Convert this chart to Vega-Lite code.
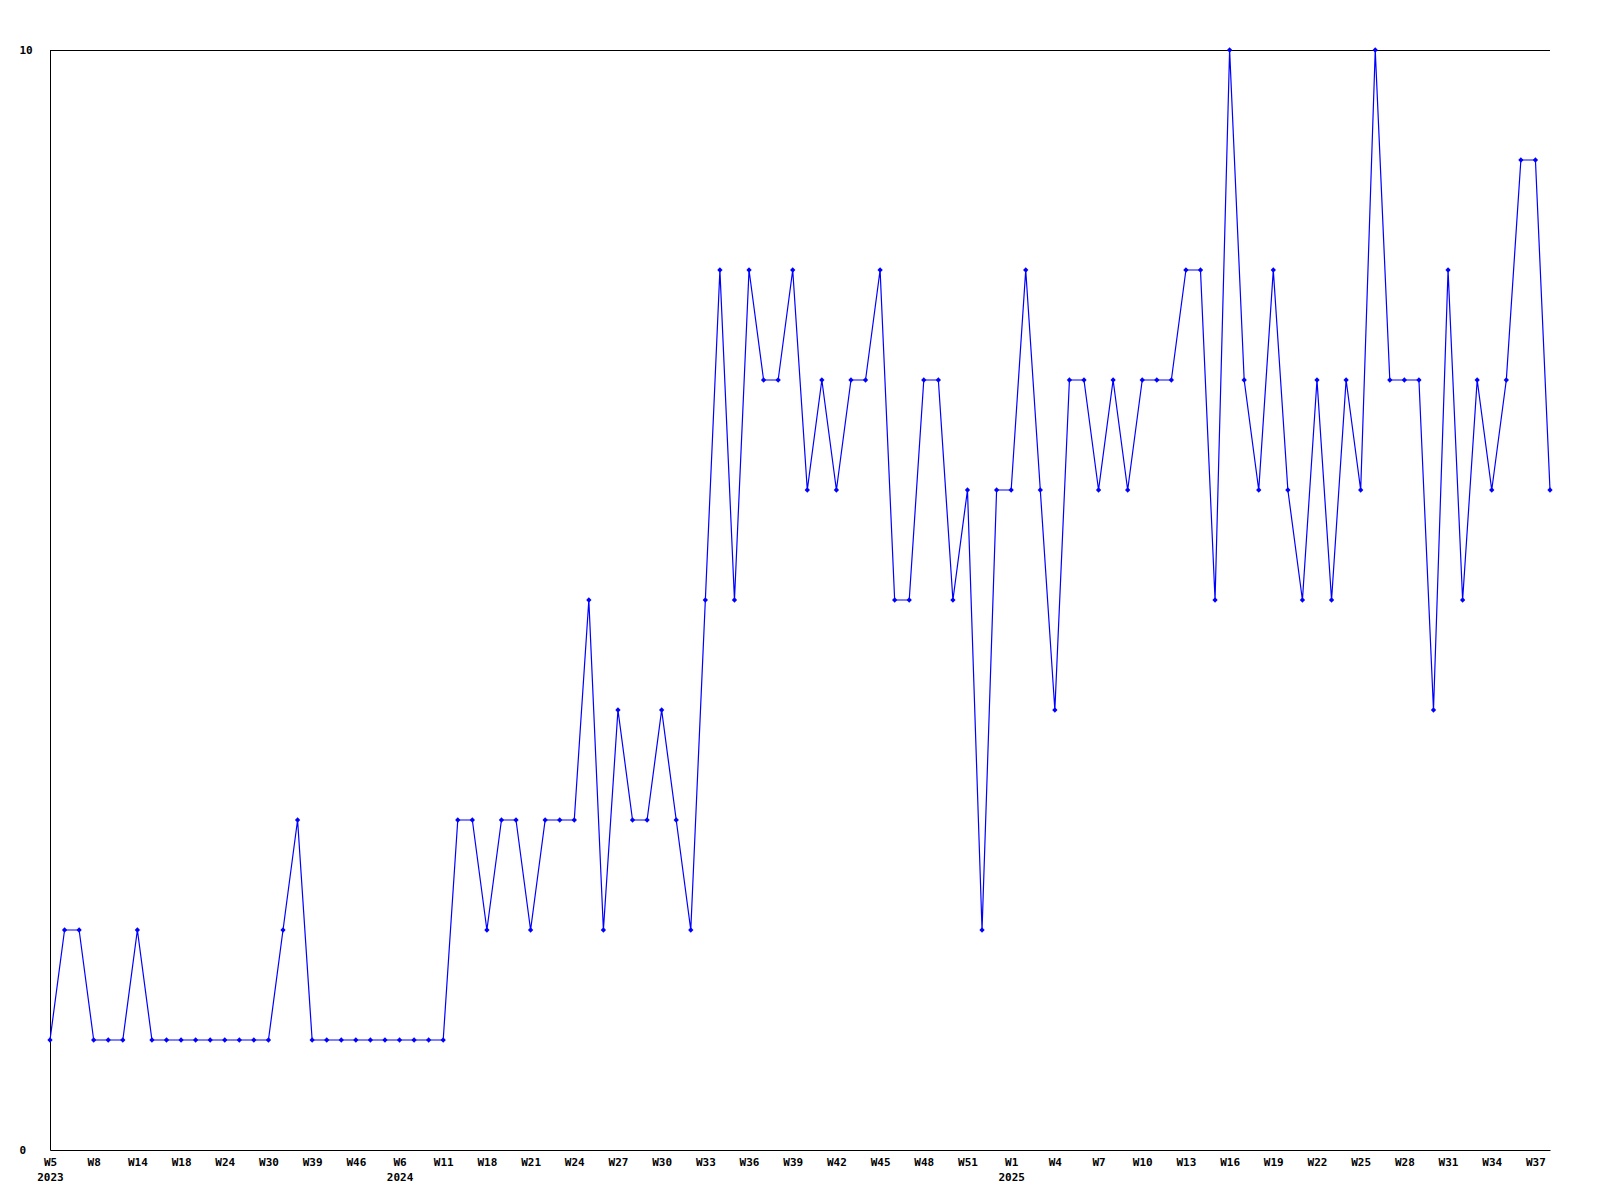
{
  "$schema": "https://vega.github.io/schema/vega-lite/v6.json",
  "width": 1500,
  "height": 1100,
  "autosize": {"type": "none"},
  "padding": {"left": 50, "top": 50, "right": 50, "bottom": 50},
  "background": "white",
  "config": {"view": {"stroke": null}},
  "data": {"values": [
    {"w":"2023-W5","n":1},{"w":"2023-W6","n":2},{"w":"2023-W7","n":2},{"w":"2023-W8","n":1},{"w":"2023-W10","n":1},{"w":"2023-W12","n":1},{"w":"2023-W14","n":2},{"w":"2023-W15","n":1},{"w":"2023-W17","n":1},{"w":"2023-W18","n":1},
    {"w":"2023-W20","n":1},{"w":"2023-W22","n":1},{"w":"2023-W24","n":1},{"w":"2023-W26","n":1},{"w":"2023-W28","n":1},{"w":"2023-W30","n":1},{"w":"2023-W33","n":2},{"w":"2023-W36","n":3},{"w":"2023-W39","n":1},{"w":"2023-W41","n":1},
    {"w":"2023-W44","n":1},{"w":"2023-W46","n":1},{"w":"2023-W49","n":1},{"w":"2023-W52","n":1},{"w":"2024-W6","n":1},{"w":"2024-W8","n":1},{"w":"2024-W10","n":1},{"w":"2024-W11","n":1},{"w":"2024-W13","n":3},{"w":"2024-W16","n":3},
    {"w":"2024-W18","n":2},{"w":"2024-W19","n":3},{"w":"2024-W20","n":3},{"w":"2024-W21","n":2},{"w":"2024-W22","n":3},{"w":"2024-W23","n":3},{"w":"2024-W24","n":3},{"w":"2024-W25","n":5},{"w":"2024-W26","n":2},{"w":"2024-W27","n":4},
    {"w":"2024-W28","n":3},{"w":"2024-W29","n":3},{"w":"2024-W30","n":4},{"w":"2024-W31","n":3},{"w":"2024-W32","n":2},{"w":"2024-W33","n":5},{"w":"2024-W34","n":8},{"w":"2024-W35","n":5},{"w":"2024-W36","n":8},{"w":"2024-W37","n":7},
    {"w":"2024-W38","n":7},{"w":"2024-W39","n":8},{"w":"2024-W40","n":6},{"w":"2024-W41","n":7},{"w":"2024-W42","n":6},{"w":"2024-W43","n":7},{"w":"2024-W44","n":7},{"w":"2024-W45","n":8},{"w":"2024-W46","n":5},{"w":"2024-W47","n":5},
    {"w":"2024-W48","n":7},{"w":"2024-W49","n":7},{"w":"2024-W50","n":5},{"w":"2024-W51","n":6},{"w":"2024-W52","n":2},{"w":"2024-W53","n":6},{"w":"2025-W1","n":6},{"w":"2025-W2","n":8},{"w":"2025-W3","n":6},{"w":"2025-W4","n":4},
    {"w":"2025-W5","n":7},{"w":"2025-W6","n":7},{"w":"2025-W7","n":6},{"w":"2025-W8","n":7},{"w":"2025-W9","n":6},{"w":"2025-W10","n":7},{"w":"2025-W11","n":7},{"w":"2025-W12","n":7},{"w":"2025-W13","n":8},{"w":"2025-W14","n":8},
    {"w":"2025-W15","n":5},{"w":"2025-W16","n":10},{"w":"2025-W17","n":7},{"w":"2025-W18","n":6},{"w":"2025-W19","n":8},{"w":"2025-W20","n":6},{"w":"2025-W21","n":5},{"w":"2025-W22","n":7},{"w":"2025-W23","n":5},{"w":"2025-W24","n":7},
    {"w":"2025-W25","n":6},{"w":"2025-W26","n":10},{"w":"2025-W27","n":7},{"w":"2025-W28","n":7},{"w":"2025-W29","n":7},{"w":"2025-W30","n":4},{"w":"2025-W31","n":8},{"w":"2025-W32","n":5},{"w":"2025-W33","n":7},{"w":"2025-W34","n":6},
    {"w":"2025-W35","n":7},{"w":"2025-W36","n":9},{"w":"2025-W37","n":9},{"w":"2025-W38","n":6}
  ]},
  "encoding": {
    "x": {
      "field": "w", "type": "ordinal", "sort": null,
      "scale": {"type": "point", "padding": 0},
      "axis": {
        "title": null,
        "values": ["2023-W5","2023-W8","2023-W14","2023-W18","2023-W24","2023-W30","2023-W39","2023-W46","2024-W6","2024-W11","2024-W18","2024-W21","2024-W24","2024-W27","2024-W30","2024-W33","2024-W36","2024-W39","2024-W42","2024-W45","2024-W48","2024-W51","2025-W1","2025-W4","2025-W7","2025-W10","2025-W13","2025-W16","2025-W19","2025-W22","2025-W25","2025-W28","2025-W31","2025-W34","2025-W37"],
        "labelExpr": "[split(datum.value,'-')[1], indexof(['2023-W5','2024-W6','2025-W1'], datum.value) >= 0 ? split(datum.value,'-')[0] : '']",
        "labelAngle": 0,
        "labelAlign": "center",
        "labelBaseline": "top",
        "labelLineHeight": 15,
        "labelPadding": 6,
        "labelOverlap": false,
        "labelFlush": false,
        "labelBound": false,
        "ticks": false,
        "tickSize": 0,
        "grid": false,
        "domainColor": "black",
        "domainWidth": 1,
        "labelFont": "DejaVu Sans Mono",
        "labelFontWeight": "bold",
        "labelFontSize": 11,
        "labelColor": "black"
      }
    },
    "y": {
      "field": "n", "type": "quantitative",
      "scale": {"domain": [0, 10], "nice": false, "zero": true},
      "axis": {
        "title": null,
        "values": [0, 10],
        "ticks": false,
        "tickSize": 0,
        "grid": false,
        "labelAlign": "left",
        "labelBaseline": "middle",
        "labelPadding": 31,
        "domainColor": "black",
        "domainWidth": 1,
        "labelFont": "DejaVu Sans Mono",
        "labelFontWeight": "bold",
        "labelFontSize": 11,
        "labelColor": "black"
      }
    }
  },
  "layer": [
    {"mark": {"type": "rule", "color": "black", "strokeWidth": 1, "yOffset": 0.5}, "encoding": {"y": {"datum": 10}, "x": {"value": 0}, "x2": {"value": 1500}}},
    {"mark": {"type": "line", "color": "#0000ff", "strokeWidth": 1.2}},
    {"mark": {"type": "point", "shape": "diamond", "filled": true, "color": "#0000ff", "size": 28, "opacity": 1}}
  ]
}
